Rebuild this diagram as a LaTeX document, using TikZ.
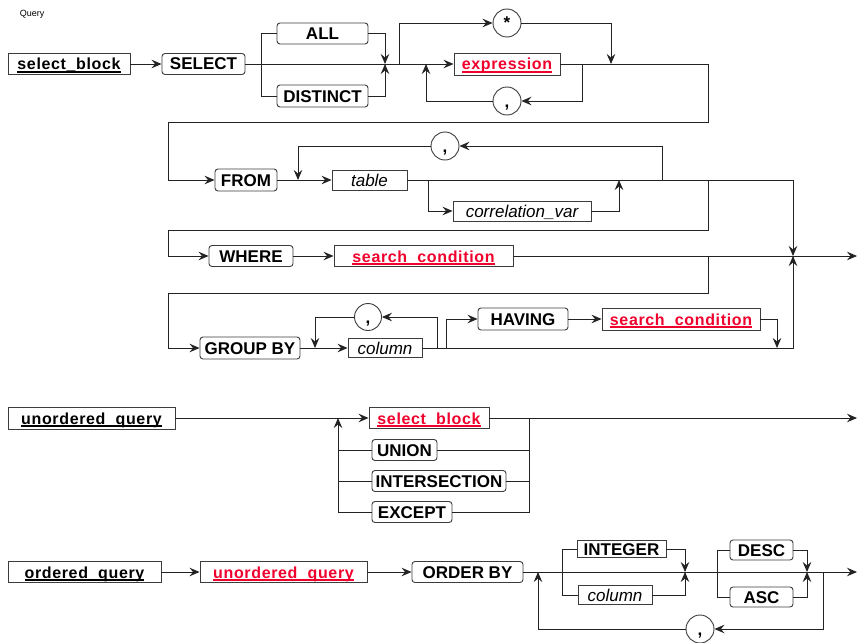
\documentclass[tikz,border=0pt]{standalone}
\usepackage{fontspec}
\setmainfont{Liberation Sans}
\newfontfamily\namefont[LetterSpace=4]{Liberation Sans}
\usetikzlibrary{arrows.meta}
\definecolor{refred}{RGB}{240,0,45}
\definecolor{ln}{RGB}{35,35,35}
\definecolor{bx}{RGB}{60,60,60}
\newcommand\uln[1]{\setbox0=\hbox{#1}\rlap{\rule[-3pt]{\wd0}{1.6pt}}\box0}
\begin{document}
\begin{tikzpicture}[x=1pt,y=-1pt,line width=0.9pt,draw=ln,
  arr/.style={-{Stealth[length=10pt,width=8.5pt,inset=3.5pt]}},
  kw/.style={draw=bx,rounded corners=3pt,inner sep=0pt,minimum height=21pt,
    text height=12pt,text depth=0pt,font=\fontsize{17}{20}\selectfont\bfseries},
  kwsq/.style={kw,sharp corners},
  defn/.style={draw=bx,sharp corners,inner sep=0pt,minimum height=21pt,
    text height=12pt,text depth=0pt,font=\namefont\fontsize{16}{20}\selectfont\bfseries},
  refn/.style={defn,text=refred},
  it/.style={draw=bx,sharp corners,inner sep=0pt,minimum height=20pt,
    text height=12pt,text depth=0pt,font=\fontsize{17}{20}\selectfont\itshape},
  circ/.style={circle,draw=bx,inner sep=0pt,minimum size=28pt,
    text height=12pt,text depth=0pt,font=\fontsize{17}{20}\selectfont\bfseries}]
\useasboundingbox[fill=white] (0,0) rectangle (858,642);

\node[anchor=west,font=\fontsize{9}{10}\selectfont] (title) at (16,14) {Query};

% ---------- nodes
% row 1
\node[defn,minimum width=122pt] (sb1) at (69,64) {\uln{select\_block}};
\node[kw,minimum width=83pt] (select) at (203.5,64) {SELECT};
\node[kw,minimum width=91pt] (all) at (322.5,33.5) {ALL};
\node[kw,minimum width=91pt,minimum height=22pt] (distinct) at (322.5,96) {DISTINCT};
\node[circ] (star) at (507,23) {*};
\node[refn,minimum width=106pt,minimum height=22pt] (expr) at (507,64) {\uln{expression}};
\node[circ] (c1) at (507,101) {,};
% row 2
\node[kw,minimum width=62pt,minimum height=22pt] (from) at (246,180) {FROM};
\node[it,minimum width=75pt] (table) at (369.5,180) {table};
\node[circ] (c2) at (445,146) {,};
\node[it,minimum width=138pt] (corr) at (522,211) {correlation\_var};
% row 3
\node[kw,minimum width=84pt] (where) at (251,256) {WHERE};
\node[refn,minimum width=179pt] (sc1) at (423.5,256) {\uln{search\_condition}};
% row 4
\node[kw,minimum width=100pt,minimum height=22pt] (groupby) at (250,348) {GROUP BY};
\node[it,minimum width=74pt,minimum height=19pt] (col1) at (385,348) {column};
\node[circ,minimum size=27pt] (c3) at (368,317) {,};
\node[kw,minimum width=90pt,minimum height=22pt] (having) at (523,319) {HAVING};
\node[refn,minimum width=158pt,minimum height=22pt] (sc2) at (681,319) {\uln{search\_condition}};
% row 5
\node[defn,minimum width=167pt,minimum height=22pt] (uq1) at (91.5,418) {\uln{unordered\_query}};
\node[refn,minimum width=120pt] (sb2) at (429,418) {\uln{select\_block}};
\node[kw,minimum width=65pt] (union) at (404.5,450) {UNION};
\node[kw,minimum width=134pt] (inter) at (439,481) {INTERSECTION};
\node[kw,minimum width=80pt] (except) at (412,512) {EXCEPT};
% row 6
\node[defn,minimum width=153pt] (oq) at (84.5,572) {\uln{ordered\_query}};
\node[refn,minimum width=167pt] (uq2) at (283.5,572) {\uln{unordered\_query}};
\node[kw,minimum width=111pt] (orderby) at (467.5,572) {ORDER BY};
\node[kwsq,minimum width=89pt,minimum height=17pt] (integer) at (621.5,549) {INTEGER};
\node[it,minimum width=74pt,minimum height=19pt] (col2) at (615,595) {column};
\node[kw,minimum width=63pt,minimum height=20pt] (desc) at (761.5,550) {DESC};
\node[kw,minimum width=63pt,minimum height=20pt] (asc) at (761.5,597) {ASC};
\node[circ] (c4) at (700,629) {,};

% ---------- junction coordinates
\coordinate (a1) at (261,64);
\coordinate (a2) at (385,64);
\coordinate (a3) at (399,64);
\coordinate (a4) at (426,64);
\coordinate (a5) at (582,64);
\coordinate (a6) at (611,64);
\coordinate (r1) at (708,122);
\coordinate (l1) at (168,180);
\coordinate (b1) at (298,180);
\coordinate (b2) at (428,180);
\coordinate (b3) at (619,180);
\coordinate (b4) at (662,180);
\coordinate (b5) at (708,180);
\coordinate (m1) at (793,256);
\coordinate (l2) at (168,230);
\coordinate (e1) at (857,256);
\coordinate (c31) at (708,256);
\coordinate (l3) at (168,293);
\coordinate (d1) at (315,348);
\coordinate (d2) at (437,348);
\coordinate (d3) at (446,348);
\coordinate (d4) at (777,348);
\coordinate (f1) at (338,418);
\coordinate (f2) at (529,418);
\coordinate (e2) at (857,418);
\coordinate (g1) at (538,572);
\coordinate (g2) at (562,572);
\coordinate (g3) at (685,572);
\coordinate (g4) at (717,572);
\coordinate (g5) at (807,572);
\coordinate (g6) at (823,572);
\coordinate (e3) at (857,572);

% ---------- connectors row 1
\draw[arr] (sb1.east) -- (select.west);
\draw[arr] (select.east) -- (expr.west);
\draw (a1) |- (all.west);
\draw (a1) |- (distinct.west);
\draw[arr] (all.east) -| (a2);
\draw[arr] (distinct.east) -| (a2);
\draw[arr] (a3) |- (star.west);
\draw[arr] (star.east) -| (a6);
\draw[arr] (a5) |- (c1.east);
\draw[arr] (c1.west) -| (a4);
\draw[arr] (expr.east) -| (r1) -| (l1) -- (from.west);
% row 2
\draw[arr] (from.east) -- (table.west);
\draw[arr] (b4) |- (c2.east);
\draw[arr] (c2.west) -| (b1);
\draw[arr] (b2) |- (corr.west);
\draw[arr] (corr.east) -| (b3);
\draw[arr] (table.east) -| (m1);
\draw[arr] (b5) |- (l2) |- (where.west);
% row 3
\draw[arr] (where.east) -- (sc1.west);
\draw[arr] (sc1.east) -- (e1);
\draw[arr] (c31) |- (l3) |- (groupby.west);
% row 4
\draw[arr] (groupby.east) -- (col1.west);
\draw[arr] (d2) |- (c3.east);
\draw[arr] (c3.west) -| (d1);
\draw[arr] (col1.east) -| (m1);
\draw[arr] (d3) |- (having.west);
\draw[arr] (having.east) -- (sc2.west);
\draw[arr] (sc2.east) -| (d4);
% row 5
\draw[arr] (uq1.east) -- (sb2.west);
\draw[arr] (sb2.east) -- (e2);
\draw (f2) |- (except.east);
\draw (union.east) -- (union.east -| f2);
\draw (inter.east) -- (inter.east -| f2);
\draw[arr] (except.west) -| (f1);
\draw (union.west) -- (union.west -| f1);
\draw (inter.west) -- (inter.west -| f1);
% row 6
\draw[arr] (oq.east) -- (uq2.west);
\draw[arr] (uq2.east) -- (orderby.west);
\draw[arr] (orderby.east) -- (e3);
\draw (g2) |- (integer.west);
\draw (g2) |- (col2.west);
\draw[arr] (integer.east) -| (g3);
\draw[arr] (col2.east) -| (g3);
\draw (g4) |- (desc.west);
\draw (g4) |- (asc.west);
\draw[arr] (desc.east) -| (g5);
\draw[arr] (asc.east) -| (g5);
\draw[arr] (g6) |- (c4.east);
\draw[arr] (c4.west) -| (g1);
\end{tikzpicture}
\end{document}
